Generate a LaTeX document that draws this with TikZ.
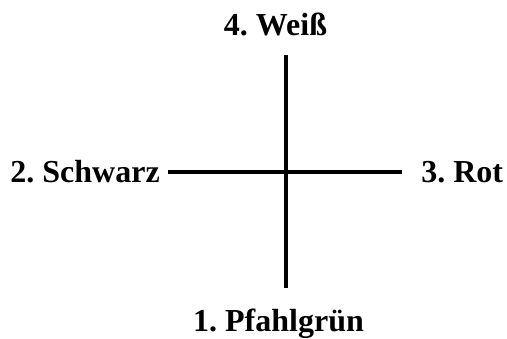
\documentclass[tikz,border=0pt]{standalone}
\usepackage{fontspec}
\setmainfont{Liberation Serif}
\usepackage{tikz}
\usetikzlibrary{positioning}
\frenchspacing

\begin{document}
\begin{tikzpicture}[
  x=0.75pt,y=-0.75pt,
  lbl/.style={inner sep=0pt,font=\fontsize{24}{28}\selectfont\bfseries},
  bar/.style={line width=3pt}
]
\useasboundingbox (0,0) rectangle (507,339);
% cross
\coordinate (c) at (286,172);
\coordinate (up) at (286,55);
\coordinate (dn) at (286,288);
\coordinate (lt) at (168,172);
\coordinate (rt) at (402,172);
\draw[bar] (up) -- (dn);
\draw[bar] (lt) -- (rt);

\node[lbl,anchor=base] (weiss) at (275.5,35) {4. Weiß};
\node[lbl,anchor=base east] (schwarz) at (160,182) {2. Schwarz};
\node[lbl,anchor=base west] (rot) at (421,182) {3. Rot};
\node[lbl,anchor=base] (gruen) at (278.5,331) {1. Pfahlgrün};
\end{tikzpicture}
\end{document}
